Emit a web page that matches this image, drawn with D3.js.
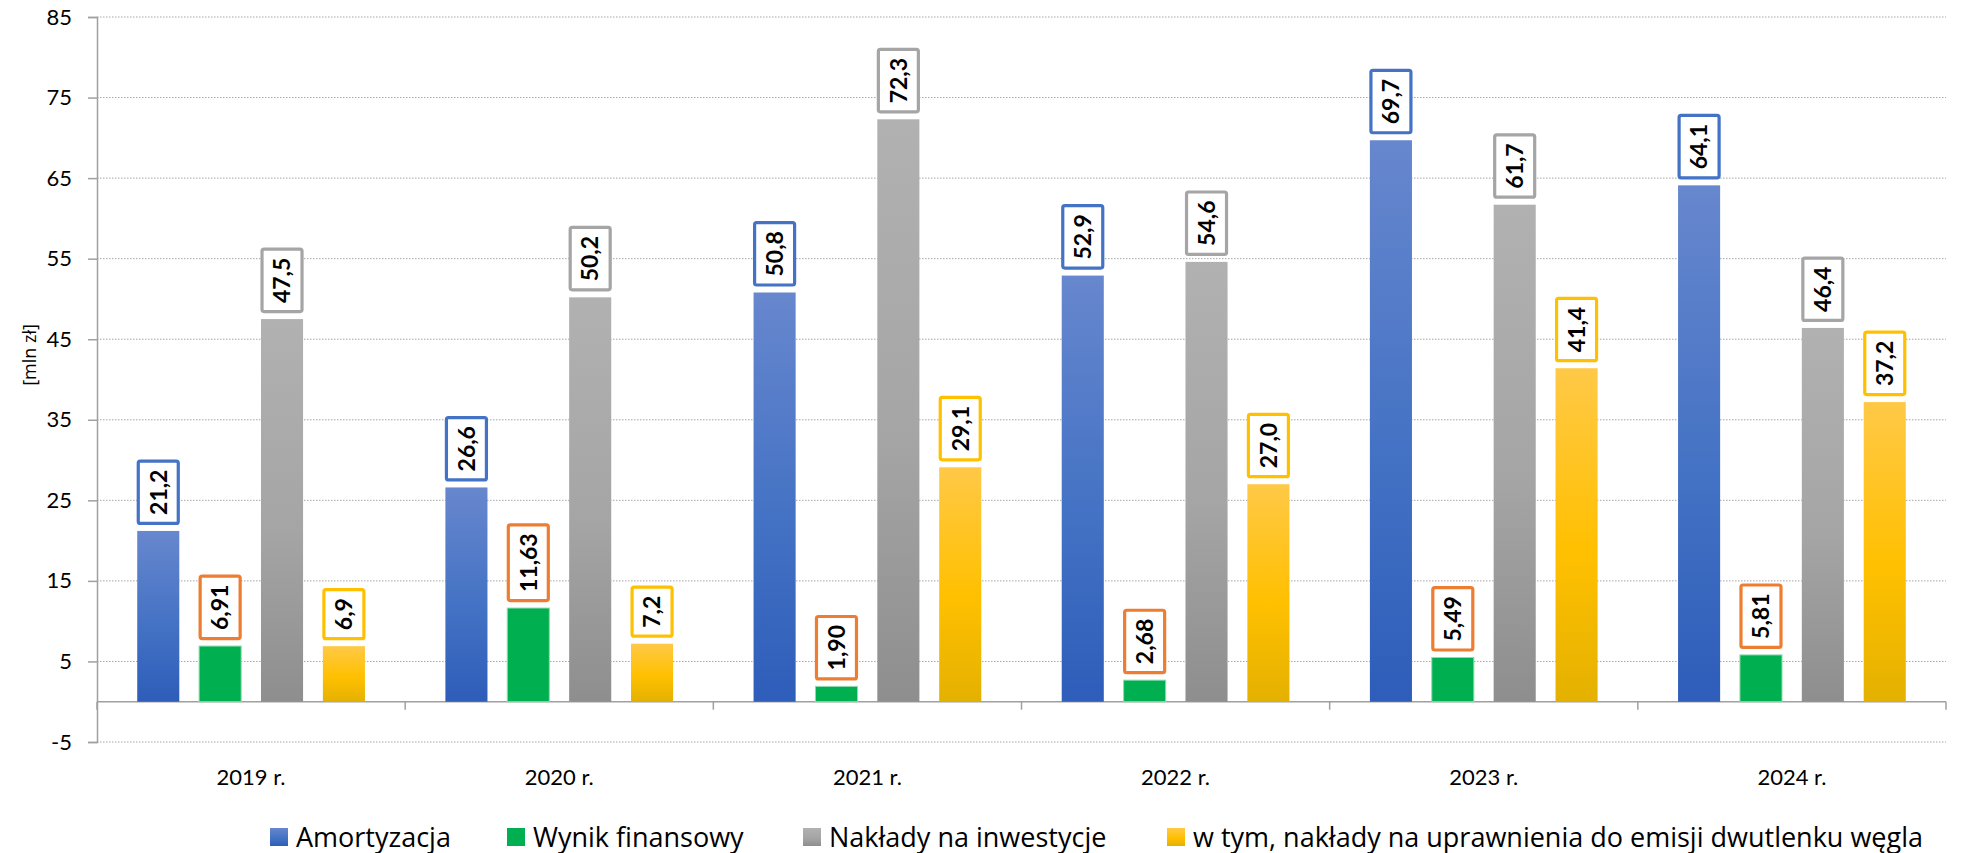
<!doctype html>
<html>
<head>
<meta charset="utf-8">
<script src="https://d3js.org/d3.v7.min.js"></script>
<style>
  body { margin: 0; background: #fff; }
  svg text { font-family: Lato, "Open Sans", sans-serif; fill: #000; }
</style>
</head>
<body>
<script>
// data
var years = ["2019 r.", "2020 r.", "2021 r.", "2022 r.", "2023 r.", "2024 r."];
var seriesNames = ["Amortyzacja", "Wynik finansowy", "Nakłady na inwestycje",
                   "w tym, nakłady na uprawnienia do emisji dwutlenku węgla"];
var amortyzacja = [21.2, 26.6, 50.8, 52.9, 69.7, 64.1];
var wynik = [6.91, 11.63, 1.90, 2.68, 5.49, 5.81];
var naklady = [47.5, 50.2, 72.3, 54.6, 61.7, 46.4];
var emisje = [6.9, 7.2, 29.1, 27.0, 41.4, 37.2];
var decimals = [1, 2, 1, 1];
var yTicks = [-5, 5, 15, 25, 35, 45, 55, 65, 75, 85];

var width = 1967, height = 853;
var margin = {left: 97, right: 21, top: 17, bottom: 111};

var svg = d3.select("body").append("svg")
    .attr("width", width)
    .attr("height", height);

// gradients: light on top, darker at the bottom
var grads = [
  {id: "g0", stops: ["#6787ce", "#4472c4", "#2e5dba"], border: "#4472c4"},
  {id: "g1", stops: ["#00b050", "#00b050", "#00b050"], border: "#ed7d31"},
  {id: "g2", stops: ["#b1b1b1", "#a5a5a5", "#8e8e8e"], border: "#a5a5a5"},
  {id: "g3", stops: ["#ffc947", "#ffc000", "#e4b100"], border: "#ffc000"}
];
var defs = svg.append("defs");
grads.forEach(function(g) {
  var lg = defs.append("linearGradient").attr("id", g.id)
      .attr("x1", 0).attr("x2", 0).attr("y1", 0).attr("y2", 1);
  lg.append("stop").attr("offset", "0%").attr("stop-color", g.stops[0]);
  lg.append("stop").attr("offset", "55%").attr("stop-color", g.stops[1]);
  lg.append("stop").attr("offset", "100%").attr("stop-color", g.stops[2]);
});

var y = d3.scaleLinear()
    .domain([-5, 85])
    .range([height - margin.bottom, margin.top]);

var x0 = d3.scaleBand()
    .domain(years)
    .range([margin.left, width - margin.right])
    .padding(0);

var x1 = d3.scaleBand()
    .domain(d3.range(4))
    .range([0, x0.bandwidth()])
    .paddingInner(0.32)
    .paddingOuter(0.65);

// gridlines (dotted)
svg.append("g")
  .selectAll("line")
  .data(yTicks)
  .enter().append("line")
    .attr("x1", margin.left)
    .attr("x2", width - margin.right)
    .attr("y1", function(d) { return y(d); })
    .attr("y2", function(d) { return y(d); })
    .attr("stroke", "#a6a6a6")
    .attr("stroke-width", 1)
    .attr("stroke-dasharray", "1.5,1.5");

// y axis
var yAxis = svg.append("g")
    .attr("transform", "translate(" + margin.left + ",0)")
    .call(d3.axisLeft(y).tickValues(yTicks).tickSize(9).tickPadding(16)
          .tickFormat(function(d) { return d; }));
yAxis.select(".domain").attr("stroke", "#a0a0a0").attr("stroke-width", 1.5);
yAxis.selectAll(".tick line").attr("stroke", "#a0a0a0").attr("stroke-width", 1.5);
yAxis.selectAll(".tick text")
    .style("font-family", "Lato, sans-serif")
    .style("font-size", "22px")
    .attr("fill", "#000");

// zero line + category ticks
svg.append("line")
    .attr("x1", margin.left).attr("x2", width - margin.right)
    .attr("y1", y(0)).attr("y2", y(0))
    .attr("stroke", "#a0a0a0").attr("stroke-width", 1.5);

svg.append("g")
  .selectAll("line")
  .data(years.concat(["end"]))
  .enter().append("line")
    .attr("x1", function(d, i) { return margin.left + i * x0.step(); })
    .attr("x2", function(d, i) { return margin.left + i * x0.step(); })
    .attr("y1", y(0))
    .attr("y2", y(0) + 8)
    .attr("stroke", "#a0a0a0").attr("stroke-width", 1.5);

// year labels
svg.append("g")
  .selectAll("text")
  .data(years)
  .enter().append("text")
    .attr("x", function(d) { return x0(d) + x0.bandwidth() / 2; })
    .attr("y", 785)
    .attr("text-anchor", "middle")
    .style("font-size", "22px")
    .text(function(d) { return d; });

// y title
svg.append("text")
    .attr("transform", "translate(36,355) rotate(-90)")
    .attr("text-anchor", "middle")
    .style("font-family", "'Open Sans', sans-serif")
    .style("font-size", "18px")
    .text("[mln zł]");

var allSeries = [amortyzacja, wynik, naklady, emisje];

var groups = svg.append("g")
  .selectAll("g")
  .data(years)
  .enter().append("g")
    .attr("transform", function(d) { return "translate(" + x0(d) + ",0)"; });

var bars = groups.selectAll("g.bar")
  .data(function(d, i) {
    return allSeries.map(function(s, k) { return {k: k, v: s[i]}; });
  })
  .enter().append("g").attr("class", "bar");

bars.append("rect")
    .attr("x", function(d) { return x1(d.k); })
    .attr("width", x1.bandwidth())
    .attr("y", function(d) { return y(d.v); })
    .attr("height", function(d) { return y(0) - y(d.v); })
    .attr("fill", function(d) { return "url(#" + grads[d.k].id + ")"; })
    .attr("stroke", function(d) { return d.k === 1 ? "#8fdcaf" : "none"; })
    .attr("stroke-width", 1);

// value labels: rotated text in a bordered box above each bar
bars.each(function(d) {
  var g = d3.select(this);
  var cx = x1(d.k) + x1.bandwidth() / 2;
  var label = d.v.toFixed(decimals[d.k]).replace(".", ",");
  var box = g.append("rect");
  var t = g.append("text")
      .attr("text-anchor", "middle")
      .attr("dy", "0.36em")
      .style("font-size", "23px")
      .style("font-weight", "bold")
      .text(label);
  var len = t.node().getComputedTextLength();
  var bh = len + 20, bw = 43;
  var bottom = y(d.v) - 6;
  var cy = bottom - bh / 2;
  t.attr("transform", "translate(" + cx + "," + cy + ") rotate(-90)");
  box.attr("x", cx - bw / 2 + 1.5)
     .attr("y", bottom - bh + 1.5)
     .attr("width", bw - 3)
     .attr("height", bh - 3)
     .attr("rx", 2)
     .attr("fill", "#fff")
     .attr("stroke", grads[d.k].border)
     .attr("stroke-width", 3.2);
});

// legend
var legendX = [270, 507, 803, 1167];
var legend = svg.append("g")
  .selectAll("g")
  .data(seriesNames)
  .enter().append("g")
    .attr("transform", function(d, i) { return "translate(" + legendX[i] + ",828)"; });

legend.append("rect")
    .attr("width", 18).attr("height", 18)
    .attr("fill", function(d, i) { return "url(#" + grads[i].id + ")"; });

legend.append("text")
    .attr("x", 26)
    .attr("y", 18.5)
    .style("font-family", "'Open Sans', sans-serif")
    .style("font-size", "27px")
    .text(function(d) { return d; });
</script>
</body>
</html>
